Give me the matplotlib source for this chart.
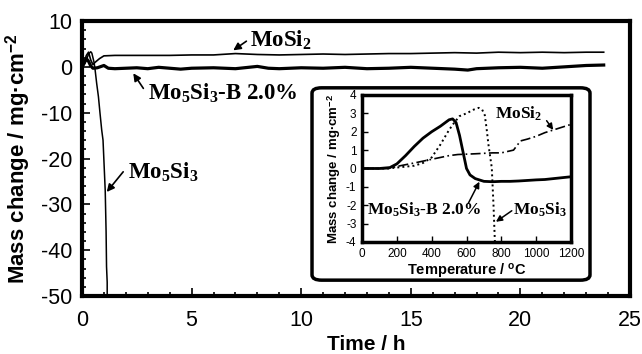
"""
Mass change vs time, with a temperature-ramp inset.
"""
import matplotlib
matplotlib.use("Agg")
import matplotlib.pyplot as plt
from matplotlib.patches import FancyBboxPatch
from matplotlib.ticker import MultipleLocator

plt.rcParams["font.family"] = ["Liberation Sans", "DejaVu Sans"]
plt.rcParams["axes.unicode_minus"] = False
plt.rcParams["mathtext.fontset"] = "custom"
plt.rcParams["mathtext.rm"] = "Liberation Serif:bold"
plt.rcParams["mathtext.sf"] = "Liberation Sans:bold"
plt.rcParams["mathtext.it"] = "Liberation Serif:bold:italic"
plt.rcParams["mathtext.bf"] = "Liberation Serif:bold"

# main panel: isothermal run (time in h, mass change in mg/cm2)
mosi2_time = [0, 0.1, 0.2, 0.3, 0.4, 0.5, 0.6, 0.8, 1.0, 1.5, 2, 3, 4, 5, 6, 7,
              8, 9, 10, 11, 12, 13, 14, 15, 16, 17, 18, 19, 20, 21, 22, 23, 23.8]
mosi2_mass = [0, 1.0, 2.5, 3.2, 1.5, 0.5, 1.0, 1.8, 2.4, 2.5, 2.5, 2.5, 2.5, 2.6,
              2.6, 2.9, 2.7, 2.6, 2.7, 2.8, 2.7, 2.8, 2.9, 2.9, 3.0, 3.1, 3.0,
              3.2, 3.1, 3.2, 3.1, 3.2, 3.2]

mo5si3b_time = [0, 0.1, 0.2, 0.3, 0.4, 0.5, 0.7, 1.0, 1.2, 1.5, 2.0, 2.5, 3.0,
                3.5, 4.0, 4.5, 5.0, 6.0, 7.0, 8.0, 8.5, 9.0, 10.0, 11.0, 12.0,
                13.0, 14.0, 15.0, 16.0, 17.0, 17.6, 18.0, 19.0, 20.0, 21.0,
                22.0, 23.0, 23.8]
mo5si3b_mass = [0, 0.8, 1.8, 1.2, 0.2, -0.3, -0.2, 0.3, -0.3, -0.4, -0.3, -0.2,
                -0.4, -0.1, -0.3, -0.5, -0.3, -0.2, -0.4, 0.1, -0.3, -0.4, -0.2,
                -0.3, -0.1, -0.4, -0.3, -0.1, -0.3, -0.5, -0.7, -0.4, -0.2,
                -0.1, -0.3, 0.0, 0.3, 0.4]

mo5si3_time = [0, 0.1, 0.2, 0.3, 0.4, 0.45, 0.5, 0.55, 0.6, 0.67, 0.75, 0.82,
               0.9, 0.96, 1.06, 1.1, 1.12, 1.15, 1.15]
mo5si3_mass = [0, 0.5, 1.5, 2.8, 3.3, 3.0, 2.0, 1.0, -0.7, -3.6, -6.5, -10.0,
               -13.8, -16.0, -27.0, -36.0, -43.6, -47.0, -55.0]

# inset: heating ramp (temperature in C, mass change in mg/cm2)
in_b_temp = [0, 100, 160, 200, 250, 300, 350, 400, 450, 500, 520, 540, 560,
             580, 600, 620, 650, 700, 750, 800, 850, 900, 950, 1000, 1050,
             1100, 1150, 1200]
in_b_mass = [0, 0, 0.05, 0.25, 0.7, 1.2, 1.65, 2.0, 2.3, 2.65, 2.7, 2.5, 1.8,
             0.9, 0.0, -0.35, -0.55, -0.7, -0.72, -0.7, -0.7, -0.68, -0.65,
             -0.62, -0.6, -0.55, -0.5, -0.45]

in_53_temp = [0, 150, 200, 250, 300, 350, 400, 450, 500, 530, 560, 600, 640,
              670, 690, 705, 715, 726, 735, 745, 755, 765]
in_53_mass = [0, 0, 0.05, 0.1, 0.15, 0.3, 0.6, 1.3, 2.1, 2.5, 2.85, 3.0, 3.2,
              3.3, 3.2, 2.9, 2.2, 1.3, 0.7, 0.05, -2.0, -4.5]

in_si2_temp = [0, 150, 220, 300, 400, 500, 550, 650, 750, 800, 870, 890, 910,
               950, 1000, 1050, 1100, 1150, 1200]
in_si2_mass = [0, 0, 0.15, 0.3, 0.5, 0.7, 0.76, 0.8, 0.85, 0.85, 1.0, 1.25,
               1.5, 1.6, 1.75, 1.95, 2.1, 2.25, 2.4]

fig = plt.figure(figsize=(6.42, 3.54), dpi=100)
ax = fig.add_axes([0.1277, 0.1638, 0.8536, 0.7768])

ax.plot(mosi2_time, mosi2_mass, color="black", lw=1.2)
ax.plot(mo5si3b_time, mo5si3b_mass, color="black", lw=2.3)
ax.plot(mo5si3_time, mo5si3_mass, color="black", lw=1.1)

ax.set_xlim(0, 25)
ax.set_ylim(-50, 10)
ax.xaxis.set_major_locator(MultipleLocator(5))
ax.xaxis.set_minor_locator(MultipleLocator(1))
ax.yaxis.set_major_locator(MultipleLocator(10))
ax.yaxis.set_minor_locator(MultipleLocator(2))
ax.tick_params(which="both", direction="in", top=False, right=False, width=1.2)
ax.tick_params(which="major", length=6)
ax.tick_params(which="minor", length=3)
ax.tick_params(axis="x", labelsize=15.5, pad=10)
ax.tick_params(axis="y", labelsize=15.5, pad=7)
for sp in ax.spines.values():
    sp.set_linewidth(3)
ax.set_xlabel("Time / h", fontsize=15, fontweight="bold")
ax.xaxis.set_label_coords(0.518, -0.142)
ax.set_ylabel(r"Mass change / mg·cm$^{\mathsf{-2}}$", fontsize=16,
              fontweight="bold", labelpad=6)

arrow = dict(arrowstyle="-|>", color="black", lw=1.2, mutation_scale=11,
             shrinkA=0, shrinkB=0)
ax.text(7.66, 4.4, r"MoSi$_2$", fontsize=16.5, family="Liberation Serif",
        fontweight="bold", va="baseline")
ax.annotate("", xy=(6.9, 3.6), xytext=(7.5, 5.6), arrowprops=arrow)
ax.text(3.03, -7.25, r"Mo$_5$Si$_3$-B 2.0%", fontsize=16.5,
        family="Liberation Serif", fontweight="bold", va="baseline")
ax.annotate("", xy=(2.34, -1.4), xytext=(2.8, -4.7), arrowprops=arrow)
ax.text(2.1, -24.3, r"Mo$_5$Si$_3$", fontsize=16.5, family="Liberation Serif",
        fontweight="bold", va="baseline")
ax.annotate("", xy=(1.13, -27.3), xytext=(1.88, -22.9), arrowprops=arrow)

# rounded frame behind the inset
frame = FancyBboxPatch((0.486 + 0.012, 0.2006 + 0.02), 0.433 - 0.024,
                       0.5593 - 0.04, boxstyle="round,pad=0.012,rounding_size=0.015",
                       transform=fig.transFigure, facecolor="white",
                       edgecolor="black", lw=2.5, zorder=5)
fig.patches.append(frame)

ins = fig.add_axes([0.5639, 0.3164, 0.3255, 0.4153], zorder=6)
ins.plot(in_b_temp, in_b_mass, color="black", lw=2.0)
ins.plot(in_53_temp, in_53_mass, color="black", lw=1.4, ls=(0, (1, 1.6)))
ins.plot(in_si2_temp, in_si2_mass, color="black", lw=1.2,
         ls=(0, (6, 2, 1, 2)))
ins.set_xlim(0, 1200)
ins.set_ylim(-4, 4)
ins.xaxis.set_major_locator(MultipleLocator(200))
ins.yaxis.set_major_locator(MultipleLocator(1))
ins.tick_params(direction="in", length=4, width=1, labelsize=8.5, pad=4,
                top=False, right=False)
for sp in ins.spines.values():
    sp.set_linewidth(2.5)
ins.set_xlabel(r"Temperature / $^{\mathsf{o}}$C", fontsize=10.5,
               fontweight="bold", labelpad=1)
ins.set_ylabel(r"Mass change / mg·cm$^{\mathsf{-2}}$", fontsize=9.5,
               fontweight="bold", labelpad=2)

arrow_s = dict(arrowstyle="-|>", color="black", lw=1.1, mutation_scale=9,
               shrinkA=0, shrinkB=0)
ins.text(763, 2.73, r"MoSi$_2$", fontsize=12.5, family="Liberation Serif",
         fontweight="bold", va="baseline")
ins.annotate("", xy=(1098, 2.1), xytext=(1060, 2.6), arrowprops=arrow_s)
ins.text(29, -2.53, r"Mo$_5$Si$_3$-B 2.0%", fontsize=12.5,
         family="Liberation Serif", fontweight="bold", va="baseline")
ins.annotate("", xy=(674, -0.72), xytext=(610, -1.9), arrowprops=arrow_s)
ins.text(865, -2.53, r"Mo$_5$Si$_3$", fontsize=12.5, family="Liberation Serif",
         fontweight="bold", va="baseline")
ins.annotate("", xy=(769, -2.9), xytext=(860, -2.3), arrowprops=arrow_s)

fig.savefig("out.png", dpi=100)
